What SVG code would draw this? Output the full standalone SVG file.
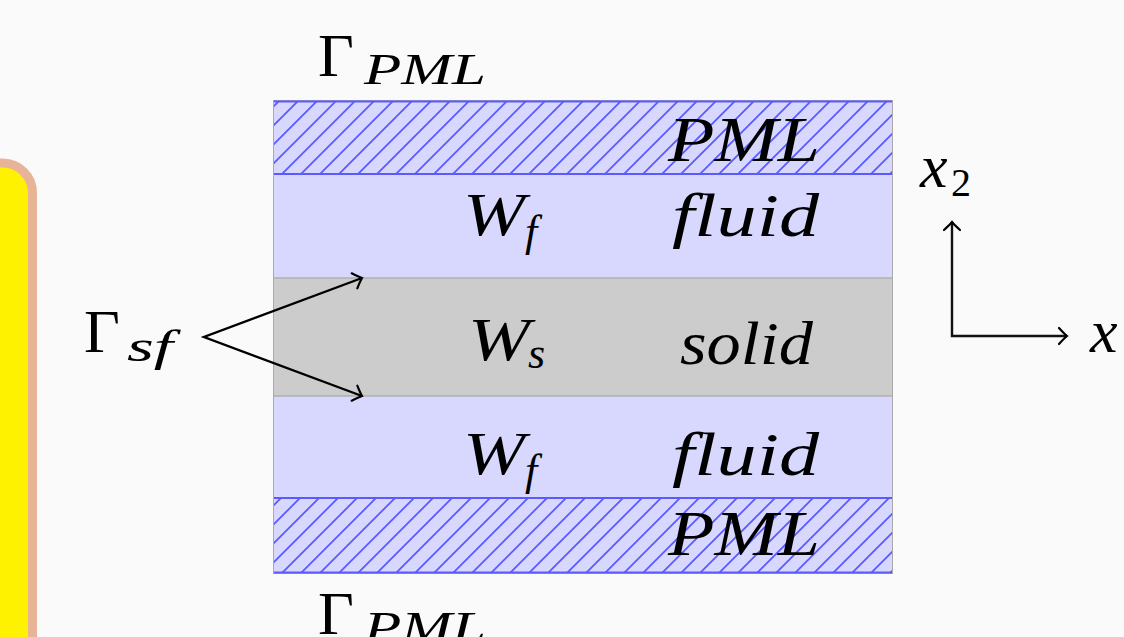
<svg xmlns="http://www.w3.org/2000/svg" width="1124" height="637" viewBox="0 0 1124 637">
<style>
  .band { fill: #d8d8ff; }
  .pmlLine { stroke: #5a5aff; stroke-width: 2; fill: none; }
  .arr { stroke: #000; stroke-width: 2.4; fill: none; }
</style>
<defs>
  <pattern id="hatch" patternUnits="userSpaceOnUse" width="19" height="19">
    <path d="M-5,5 L5,-5 M0,19 L19,0 M14,24 L24,14" stroke="#5a5aff" stroke-width="1.8" fill="none"/>
  </pattern>
  <marker id="to" markerUnits="userSpaceOnUse" markerWidth="24" markerHeight="24" viewBox="-12 -12 24 24" refX="0" refY="0" orient="auto-start-reverse">
    <path d="M-8,-8 Q-2.5,-2 0,0 Q-2.5,2 -8,8" stroke="#000" stroke-width="2.2" fill="none" stroke-linecap="round"/>
  </marker>
</defs>
<rect width="1124" height="637" fill="#fafafa"/>

<g id="sidebar">
  <rect x="-100" y="163" width="132.5" height="600" rx="30" fill="#fff200" stroke="#e8b498" stroke-width="9"/>
</g>

<g id="domain">
  <rect x="273" y="100" width="620" height="474" class="band"/>
  <rect x="273" y="278" width="620" height="118" fill="#cccccc"/>
  <line x1="273" y1="278" x2="893" y2="278" stroke="#b0b0b0" stroke-width="1.5"/>
  <line x1="273" y1="396" x2="893" y2="396" stroke="#b0b0b0" stroke-width="1.5"/>
  <rect x="273.5" y="100.5" width="619" height="473" fill="none" stroke="#aaaaaa" stroke-width="1"/>
</g>

<g font-family="Liberation Serif, serif" font-style="italic" fill="#000">
<g id="pml-top">
  <rect x="274" y="101" width="618" height="73" fill="url(#hatch)"/>
  <line x1="274" y1="101.5" x2="892" y2="101.5" class="pmlLine"/>
  <line x1="274" y1="174" x2="892" y2="174" class="pmlLine"/>
  <text x="668" y="161" font-size="64" textLength="152" lengthAdjust="spacingAndGlyphs">PML</text>
</g>

<g id="pml-bottom">
  <rect x="274" y="498" width="618" height="75" fill="url(#hatch)"/>
  <line x1="274" y1="498" x2="892" y2="498" class="pmlLine"/>
  <line x1="274" y1="572.5" x2="892" y2="572.5" class="pmlLine"/>
  <text x="668" y="555" font-size="64" textLength="152" lengthAdjust="spacingAndGlyphs">PML</text>
</g>

<g id="fluid-top">
  <text x="463" y="235" font-size="62" textLength="62" lengthAdjust="spacingAndGlyphs">W</text>
  <text x="525" y="246" font-size="44">f</text>
  <text x="672" y="236" font-size="62" textLength="147" lengthAdjust="spacingAndGlyphs">fluid</text>
</g>

<g id="solid">
  <text x="468" y="360" font-size="62" textLength="62" lengthAdjust="spacingAndGlyphs">W</text>
  <text x="528" y="368" font-size="44">s</text>
  <text x="680" y="364" font-size="62" textLength="133" lengthAdjust="spacingAndGlyphs">solid</text>
</g>

<g id="fluid-bottom">
  <text x="463" y="474" font-size="62" textLength="62" lengthAdjust="spacingAndGlyphs">W</text>
  <text x="525" y="485" font-size="44">f</text>
  <text x="672" y="475" font-size="62" textLength="147" lengthAdjust="spacingAndGlyphs">fluid</text>
</g>

<g id="gamma-pml-top">
  <text x="318" y="76" font-size="62" font-style="normal">Γ</text>
  <text x="364" y="84" font-size="44" textLength="122" lengthAdjust="spacingAndGlyphs">PML</text>
</g>

<g id="gamma-pml-bottom">
  <text x="318" y="634" font-size="62" font-style="normal">Γ</text>
  <text x="364" y="642" font-size="44" textLength="122" lengthAdjust="spacingAndGlyphs">PML</text>
</g>

<g id="gamma-sf">
  <text x="84" y="352" font-size="62" font-style="normal">Γ</text>
  <text x="127" y="361" font-size="44" textLength="46" lengthAdjust="spacingAndGlyphs">sf</text>
</g>

<g id="axes">
  <text x="920" y="187" font-size="62">x</text>
  <text x="951" y="196" font-size="40" font-style="normal">2</text>
  <text x="1090" y="352" font-size="62">x</text>
</g>
</g>

<g id="connectors">
  <polyline class="arr" points="362,278 204,337 362,396" marker-start="url(#to)" marker-end="url(#to)"/>
  <path d="M952,222 L952,336 L1067,336" stroke="#111" stroke-width="2.4" fill="none" marker-start="url(#to)" marker-end="url(#to)"/>
</g>
</svg>
